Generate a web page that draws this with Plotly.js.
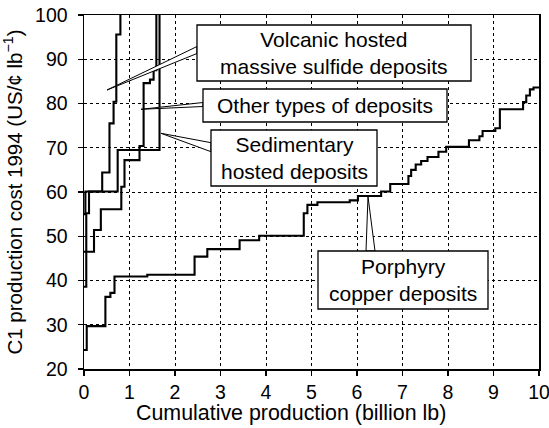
<!DOCTYPE html>
<html>
<head>
<meta charset="utf-8">
<script src="https://cdn.plot.ly/plotly-3.0.1.min.js"></script>
<style>
  html, body { margin: 0; padding: 0; background: #fff; }
  #chart { width: 549px; height: 428px; }
</style>
</head>
<body>
<div id="chart"></div>
<script>
// ---- data ----
const volcanicX = [0, 0.03, 0.40, 0.56, 0.65, 0.71, 0.80];
const volcanicY = [55.0, 60.1, 64.4, 75.5, 80.4, 95.6, 100];

const otherX = [0, 0.22, 0.37, 0.82, 0.89, 1.22, 1.31, 1.45, 1.53, 1.59];
const otherY = [46.5, 51.4, 56.1, 61.2, 67.2, 70.4, 84.6, 85.4, 87.5, 100];

const sedimentaryX = [0, 0.05, 0.11, 0.74, 1.66];
const sedimentaryY = [38.6, 55.2, 60.1, 69.5, 100];

const porphyryX = [0, 0.06, 0.47, 0.58, 0.67, 1.39, 2.43, 2.71, 3.42, 3.85,
  4.83, 4.91, 5.13, 5.84, 6.02, 6.53, 6.73, 7.13, 7.19, 7.29,
  7.41, 7.55, 7.79, 7.96, 8.46, 8.69, 8.76, 9.04, 9.14, 9.65,
  9.72, 9.80, 9.88, 10];
const porphyryY = [24.3, 29.7, 36.3, 37.2, 40.9, 41.3, 45.4, 47.1, 49.1, 50.1,
  55.2, 57.1, 57.7, 58.1, 59.1, 60.1, 61.8, 63.6, 65.0, 66.2,
  67.0, 67.9, 69.1, 70.2, 71.7, 72.6, 73.8, 74.4, 78.7, 80.3,
  81.8, 83.2, 83.6, 83.6];

const xTicks = [0, 1, 2, 3, 4, 5, 6, 7, 8, 9, 10];
const yTicks = [20, 30, 40, 50, 60, 70, 80, 90, 100];

const xTitle = "Cumulative production (billion lb)";
const yTitle = "C1 production cost 1994 (US/¢ lb<sup>−1</sup>)";
const labelVolcanic = "Volcanic hosted<br>massive sulfide deposits";
const labelOther = "Other types of deposits";
const labelSedimentary = "Sedimentary<br>hosted deposits";
const labelPorphyry = "Porphyry<br>copper deposits";

// ---- layout helpers (pixel -> paper) ----
const W = 549, H = 428;
const M = {l: 84, r: 10, t: 15, b: 59};
const PW = W - M.l - M.r, PH = H - M.t - M.b;
const px = v => (v - M.l) / PW;
const py = v => (H - M.b - v) / PH;

const FONT = "Liberation Sans, Arial, Helvetica, sans-serif";

function stepTrace(x, y, name) {
  return {
    x: x, y: y, name: name, type: "scatter", mode: "lines",
    line: {shape: "hv", color: "#000", width: 2.1},
    hoverinfo: "skip", showlegend: false
  };
}

const data = [
  stepTrace(porphyryX, porphyryY, "Porphyry copper deposits"),
  stepTrace(sedimentaryX, sedimentaryY, "Sedimentary hosted deposits"),
  stepTrace(otherX, otherY, "Other types of deposits"),
  stepTrace(volcanicX, volcanicY, "Volcanic hosted massive sulfide deposits")
];

function wedge(ax, ay, b1x, b1y, b2x, b2y) {
  return {
    type: "path", xref: "paper", yref: "paper", layer: "above",
    path: `M ${px(ax)} ${py(ay)} L ${px(b1x)} ${py(b1y)} L ${px(b2x)} ${py(b2y)} Z`,
    fillcolor: "#fff", line: {color: "#000", width: 1}
  };
}
function box(x0, y0, x1, y1) {
  return {
    type: "rect", xref: "paper", yref: "paper", layer: "above",
    x0: px(x0), x1: px(x1), y0: py(y1), y1: py(y0),
    fillcolor: "#fff", line: {color: "#000", width: 1.3}
  };
}
function label(text, cx, cy, size) {
  return {
    text: text, xref: "paper", yref: "paper", x: px(cx), y: py(cy),
    xanchor: "center", yanchor: "middle", showarrow: false, align: "center",
    font: {family: FONT, size: size || 21, color: "#000"}
  };
}

const layout = {
  width: W, height: H,
  margin: M,
  paper_bgcolor: "#fff", plot_bgcolor: "#fff",
  font: {family: FONT, size: 19, color: "#000"},
  showlegend: false,
  xaxis: {
    range: [0, 10], tickvals: xTicks, ticktext: xTicks.map(String),
    ticks: "outside", ticklen: 5, tickwidth: 1.3, tickcolor: "#000",
    ticklabeloverflow: "allow",
    showline: true, linecolor: "#000", linewidth: 1.5, mirror: true,
    showgrid: true, gridcolor: "#000", gridwidth: 1, griddash: "3px,3px",
    zeroline: false, fixedrange: true,
    tickfont: {family: FONT, size: 19.5, color: "#000"}
  },
  yaxis: {
    range: [20, 100], tickvals: yTicks, ticktext: yTicks.map(String),
    ticks: "outside", ticklen: 5, tickwidth: 1.3, tickcolor: "#000",
    ticklabelstandoff: 6,
    showline: true, linecolor: "#000", linewidth: 1.5, mirror: true,
    showgrid: true, gridcolor: "#000", gridwidth: 1, griddash: "3px,3px",
    zeroline: false, fixedrange: true,
    tickfont: {family: FONT, size: 19.5, color: "#000"},
    title: {text: yTitle, font: {family: FONT, size: 20.5, color: "#000"}, standoff: 9}
  },
  shapes: [
    wedge(107, 90, 197, 46.5, 197, 53.5),
    wedge(141, 109.3, 203, 102.5, 203, 106.5),
    wedge(161, 133.3, 211, 142.7, 211, 151.7),
    wedge(368, 196.7, 366, 251, 375, 251),
    box(197, 25, 471, 81),
    box(203, 89, 447, 122),
    box(211, 130, 377, 186),
    box(318, 251, 488, 309)
  ],
  annotations: [
    label(labelVolcanic, 334, 53),
    label(labelOther, 325, 105.5),
    label(labelSedimentary, 294, 158),
    label(labelPorphyry, 403, 280),
    label(xTitle, 291, 413, 21.4)
  ]
};

Plotly.newPlot("chart", data, layout, {displayModeBar: false, staticPlot: true});
</script>
</body>
</html>
